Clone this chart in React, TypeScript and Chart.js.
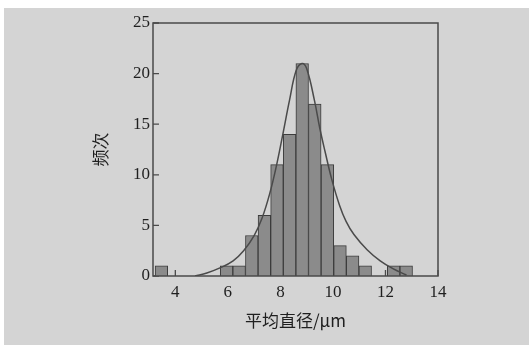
import { useEffect, useRef } from 'react';
import { Chart, registerables } from 'chart.js';

Chart.register(...registerables);

const binCenters = [3.47, 5.95, 6.43, 6.91, 7.39, 7.87, 8.35, 8.83, 9.31, 9.79, 10.27, 10.75, 11.23, 12.31, 12.79];
const binCounts = [1, 1, 1, 4, 6, 11, 14, 21, 17, 11, 3, 2, 1, 1, 1];

const curveX = [4.75, 5.2, 5.7, 6.2, 6.6, 7.0, 7.3, 7.6, 7.85, 8.1, 8.35, 8.6, 8.82, 9.0, 9.3, 9.5, 9.7, 9.95, 10.25, 10.5, 10.8, 11.3, 11.8, 12.3, 12.8];
const curveY = [0, 0.3, 0.8, 1.5, 2.5, 4.0, 5.7, 8.2, 10.9, 14.1, 17.4, 20.3, 21.0, 20.5, 17.3, 14.6, 12.3, 9.6, 7.0, 5.4, 4.1, 2.6, 1.5, 0.7, 0.1];

const xTicks = [4, 6, 8, 10, 12, 14];
const yTicks = [0, 5, 10, 15, 20, 25];

const xTitle = '平均直径/μm';
const yTitle = '频次';

const INK = '#1f1f1f';
const FRAME = '#4a4a4a';

const frameTicks = {
  id: 'frameTicks',
  beforeDatasetsDraw(chart: any) {
    const { ctx, chartArea, scales } = chart;
    const { left, bottom } = chartArea;
    ctx.save();
    ctx.strokeStyle = FRAME;
    ctx.lineWidth = 1.3;
    ctx.beginPath();
    xTicks.forEach((v) => {
      const px = scales.x.getPixelForValue(v);
      ctx.moveTo(px, bottom);
      ctx.lineTo(px, bottom - 6);
    });
    yTicks.forEach((v) => {
      const py = scales.y.getPixelForValue(v);
      ctx.moveTo(left, py);
      ctx.lineTo(left + 6, py);
    });
    ctx.stroke();
    ctx.restore();
  },
  afterDraw(chart: any) {
    const { ctx, chartArea } = chart;
    const { left, right, top, bottom } = chartArea;
    ctx.save();
    ctx.strokeStyle = FRAME;
    ctx.lineWidth = 1.5;
    ctx.strokeRect(left, top, right - left, bottom - top);
    ctx.restore();
  },
};

export default function App() {
  const ref = useRef<HTMLCanvasElement | null>(null);

  useEffect(() => {
    document.body.style.margin = '0';
    const canvas = ref.current;
    if (!canvas) return;
    const chart = new Chart(canvas, {
      type: 'bar',
      data: {
        datasets: [
          {
            type: 'line',
            data: curveX.map((x, i) => ({ x, y: curveY[i] })),
            borderColor: '#4a4a4a',
            borderWidth: 1.5,
            pointRadius: 0,
            fill: false,
            tension: 0.4,
            order: 0,
          } as any,
          {
            type: 'bar',
            data: binCenters.map((x, i) => ({ x, y: binCounts[i] })),
            backgroundColor: '#8b8b8b',
            borderColor: '#3c3c3c',
            borderWidth: 1,
            barPercentage: 1,
            categoryPercentage: 1,
            order: 1,
          } as any,
        ],
      },
      options: {
        responsive: false,
        animation: false,
        devicePixelRatio: 1,
        layout: { padding: { left: 82, top: 15, right: 91, bottom: 14 } },
        plugins: {
          legend: { display: false },
          tooltip: { enabled: false },
        },
        scales: {
          x: {
            type: 'linear',
            min: 3.15,
            max: 14,
            offset: false,
            grid: { display: false, offset: false, drawTicks: false },
            border: { display: false },
            afterBuildTicks: (scale: any) => {
              scale.ticks = xTicks.map((v) => ({ value: v }));
            },
            afterFit: (scale: any) => {
              scale.height = 55;
            },
            ticks: {
              padding: 6,
              color: INK,
              font: { family: 'Liberation Serif', size: 17 },
              callback: (v: any) => String(v),
            },
            title: {
              display: true,
              text: xTitle,
              color: INK,
              padding: { top: 0, bottom: 0 },
              font: { family: 'Noto Sans CJK SC', size: 17 },
            },
          },
          y: {
            type: 'linear',
            min: 0,
            max: 25,
            grid: { display: false, drawTicks: false },
            border: { display: false },
            afterBuildTicks: (scale: any) => {
              scale.ticks = yTicks.map((v) => ({ value: v }));
            },
            afterFit: (scale: any) => {
              scale.width = 67;
            },
            ticks: {
              padding: 3,
              color: INK,
              font: { family: 'Liberation Serif', size: 17 },
              callback: (v: any) => String(v),
            },
            title: {
              display: true,
              text: yTitle,
              color: INK,
              padding: { top: 4, bottom: 0 },
              font: { family: 'Noto Sans CJK SC', size: 17 },
            },
          },
        },
      },
      plugins: [frameTicks],
    });
    return () => chart.destroy();
  }, []);

  return (
    <div style={{ position: 'relative', width: 529, height: 345, background: '#ffffff', overflow: 'hidden' }}>
      <div style={{ position: 'absolute', left: 4, top: 8, width: 525, height: 337, background: '#d4d4d4' }}>
        <canvas ref={ref} width={525} height={337} style={{ display: 'block', width: 525, height: 337 }} />
      </div>
    </div>
  );
}
